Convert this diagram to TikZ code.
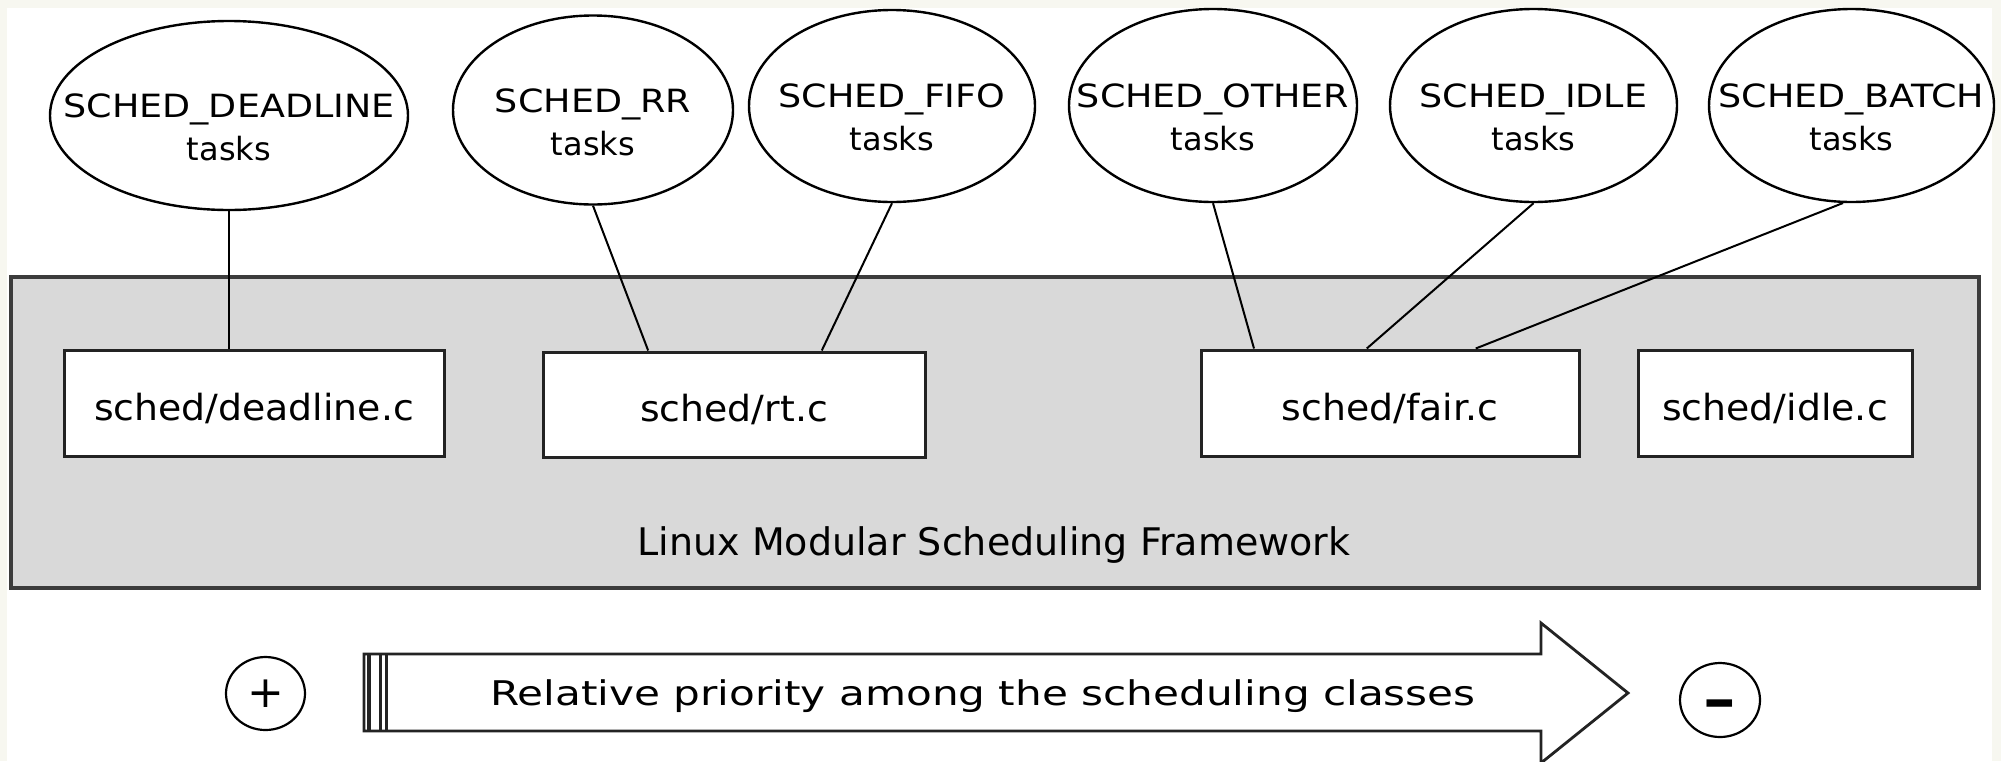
\documentclass[tikz,border=0pt]{standalone}
\usepackage{fontspec}
\setmainfont{DejaVu Sans}
\usetikzlibrary{shapes.geometric,calc}
\definecolor{cream}{RGB}{247,247,240}
\definecolor{framefill}{RGB}{217,217,217}
\definecolor{frameline}{RGB}{60,60,60}
\definecolor{boxline}{RGB}{35,35,35}
\newcommand{\hsc}[2]{\scalebox{#1}[1]{#2}}
\begin{document}
\begin{tikzpicture}[x=0.5pt,y=-0.5pt,
  task/.style={draw=black,line width=1.2pt,ellipse,inner sep=0pt,fill=white},
  tasktext/.style={align=center,font=\fontsize{16}{21.5}\selectfont,inner sep=0pt},
  filebox/.style={draw=boxline,line width=1.5pt,fill=white,rectangle,inner sep=0pt,
    minimum height=53pt,font=\fontsize{18}{20}\selectfont,text height=17pt,text depth=0pt},
  link/.style={draw=black,line width=1pt},
  sign/.style={draw=black,line width=1.1pt,ellipse,inner sep=0pt,font=\fontsize{22}{24}\selectfont},
  frame/.style={draw=frameline,line width=1.6pt,fill=framefill,rectangle,inner sep=0pt},
  arrowbody/.style={draw=boxline,line width=1.4pt,fill=white,line join=miter}
]
\useasboundingbox (0,0) rectangle (2001,761);
\fill[cream] (0,0) rectangle (2001,761);
\fill[white] (7,8) rectangle (1992,761);

% framework
\node[frame, minimum width=984pt, minimum height=155.5pt] (frame) at (995,432.5) {};
\node[anchor=base, font=\fontsize{19}{20}\selectfont, inner sep=0pt] (fwl) at (994,555) {Linux Modular Scheduling Framework};

% file boxes
\node[filebox, minimum width=190pt] (dl) at (254,403) {\hsc{1.05}{sched/deadline.c}};
\node[filebox, minimum width=191pt, minimum height=52.5pt] (rt) at (734,404.5) {\hsc{1.05}{sched/rt.c}};
\node[filebox, minimum width=189pt] (fair) at (1390,403) {\hsc{1.05}{sched/fair.c}};
\node[filebox, minimum width=137pt] (idle) at (1775,403) {\hsc{1.05}{sched/idle.c}};

% task ellipses
\node[task, minimum width=179pt, minimum height=94.5pt] (e1) at (229,115.5) {};
\node[task, minimum width=140pt, minimum height=94.5pt] (e2) at (593,110) {};
\node[task, minimum width=143pt, minimum height=96pt] (e3) at (892,106) {};
\node[task, minimum width=144pt, minimum height=96.5pt] (e4) at (1213,105.5) {};
\node[task, minimum width=143.5pt, minimum height=96.5pt] (e5) at (1533.5,105.5) {};
\node[task, minimum width=142.5pt, minimum height=96.5pt] (e6) at (1851.5,105.5) {};

\node[tasktext] (t1) at ($(e1)+(0,12)$) {\hsc{1.14}{SCHED\_DEADLINE}\\tasks};
\node[tasktext] (t2) at ($(e2)+(0,12)$) {\hsc{1.14}{SCHED\_RR}\\tasks};
\node[tasktext] (t3) at ($(e3)+(0,11)$) {\hsc{1.14}{SCHED\_FIFO}\\tasks};
\node[tasktext] (t4) at ($(e4)+(0,12)$) {\hsc{1.14}{SCHED\_OTHER}\\tasks};
\node[tasktext] (t5) at ($(e5)+(0,12)$) {\hsc{1.14}{SCHED\_IDLE}\\tasks};
\node[tasktext] (t6) at ($(e6)+(0,12)$) {\hsc{1.14}{SCHED\_BATCH}\\tasks};

% connectors
\coordinate (rtA) at ($(rt.north west)!0.277!(rt.north east)$);
\coordinate (rtB) at ($(rt.north west)!0.728!(rt.north east)$);
\coordinate (fA) at ($(fair.north west)!0.143!(fair.north east)$);
\coordinate (fB) at ($(fair.north west)!0.439!(fair.north east)$);
\coordinate (fC) at ($(fair.north west)!0.725!(fair.north east)$);
\draw[link] (e1.south) -- (e1.south |- dl.north);
\draw[link] (e2.south) -- (rtA);
\draw[link] (e3.south) -- (rtB);
\draw[link] (e4.south) -- (fA);
\draw[link] (e5.south) -- (fB);
\draw[link] (e6.265) -- (fC);

% priority arrow
\draw[arrowbody] (364,654) -- (1541,654) -- (1541,623) -- (1628,693) -- (1541,763) -- (1541,731) -- (364,731) -- cycle;
\draw[draw=boxline, line width=2pt] (368.5,654) -- (368.5,731);
\draw[draw=boxline, line width=1.2pt] (380.5,654) -- (380.5,731);
\draw[draw=boxline, line width=1.4pt] (386.5,654) -- (386.5,731);
\node[anchor=base, font=\fontsize{17}{18}\selectfont, inner sep=0pt] (prio) at (983,705) {\hsc{1.24}{Relative priority among the scheduling classes}};

% plus / minus
\node[sign, minimum width=39.5pt, minimum height=36.5pt] (plus) at (265.5,693.5) {+};
\node[sign, minimum width=40pt, minimum height=37pt, font=\fontsize{26}{28}\selectfont\bfseries] (minus) at (1720,700) {\raisebox{-9.3pt}[0pt][0pt]{\hsc{1.6}{-}}};
\end{tikzpicture}
\end{document}
